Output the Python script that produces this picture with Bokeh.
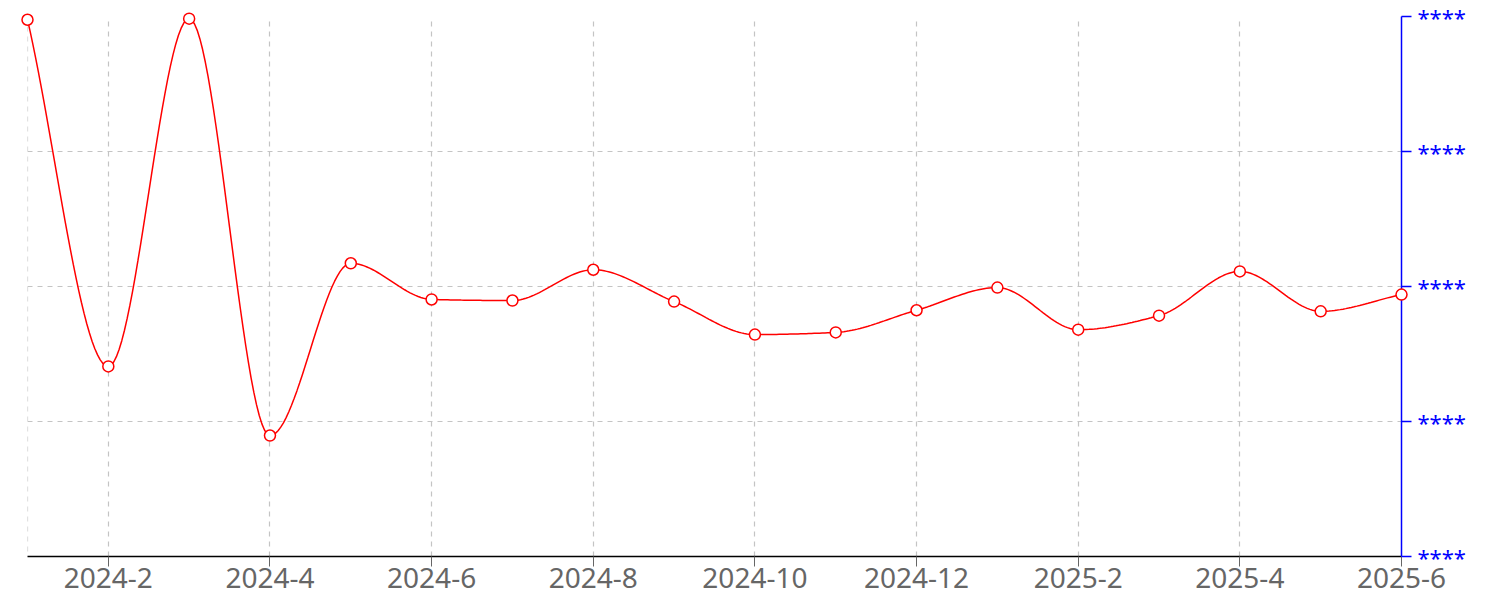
import numpy as np
from bokeh.plotting import figure
from bokeh.models import Range1d, FixedTicker, Span
from bokeh.embed import file_html
from bokeh.resources import INLINE

months = ["2024-1", "2024-2", "2024-3", "2024-4", "2024-5", "2024-6", "2024-7", "2024-8", "2024-9",
          "2024-10", "2024-11", "2024-12", "2025-1", "2025-2", "2025-3", "2025-4", "2025-5", "2025-6"]
values = [99.4, 35.2, 99.6, 22.4, 54.3, 47.6, 47.4, 53.1, 47.2,
          41.1, 41.5, 45.6, 49.8, 42.0, 44.6, 52.8, 45.4, 48.5]
y_ticks = [0, 25, 50, 75, 100]
y_tick_labels = ["****", "****", "****", "****", "****"]

x = np.arange(len(months), dtype=float)
y = np.array(values, dtype=float)


def monotone_curve(xs, ys, n=30):
    # Fritsch-Carlson monotone cubic, used only to draw the smooth line between the data points
    h = np.diff(xs)
    d = np.diff(ys) / h
    m = np.zeros_like(ys)
    m[0] = d[0]
    m[-1] = d[-1]
    for i in range(1, len(ys) - 1):
        if d[i - 1] * d[i] <= 0:
            m[i] = 0.0
        else:
            w1 = 2 * h[i] + h[i - 1]
            w2 = h[i] + 2 * h[i - 1]
            m[i] = (w1 + w2) / (w1 / d[i - 1] + w2 / d[i])
    cx, cy = [], []
    for i in range(len(xs) - 1):
        t = np.linspace(0, 1, n, endpoint=(i == len(xs) - 2))
        h00 = 2 * t**3 - 3 * t**2 + 1
        h10 = t**3 - 2 * t**2 + t
        h01 = -2 * t**3 + 3 * t**2
        h11 = t**3 - t**2
        cx.extend(xs[i] + t * h[i])
        cy.extend(h00 * ys[i] + h10 * h[i] * m[i] + h01 * ys[i + 1] + h11 * h[i] * m[i + 1])
    return cx, cy


cx, cy = monotone_curve(x, y)

p = figure(frame_width=1374, frame_height=540, output_backend="svg", toolbar_location=None,
           y_axis_location="right",
           x_range=Range1d(0, len(months) - 1), y_range=Range1d(y_ticks[0], y_ticks[-1]),
           min_border_left=27, min_border_top=16, min_border_right=10, min_border_bottom=50)
p.outline_line_color = None
p.background_fill_color = "white"
p.border_fill_color = "white"

# grids
grid_col = "#c4c4c4"
p.xgrid.grid_line_color = grid_col
p.xgrid.grid_line_dash = "5 5"
p.xgrid.grid_line_width = 1.2
p.ygrid.grid_line_color = grid_col
p.ygrid.grid_line_dash = "5 5"
p.ygrid.grid_line_width = 1.2
p.add_layout(Span(location=0, dimension="height", line_color=grid_col, line_dash="5 5", line_width=1.2))

# x axis
xt = list(range(1, len(months), 2))
p.xaxis.ticker = FixedTicker(ticks=xt)
p.xaxis.major_label_overrides = {i: months[i] for i in xt}
p.xaxis.axis_line_color = "black"
p.xaxis.axis_line_width = 1.5
p.xaxis.major_tick_line_color = "#666666"
p.xaxis.major_tick_out = 10
p.xaxis.major_tick_in = 0
p.xaxis.minor_tick_line_color = None
p.xaxis.major_label_text_color = "#666666"
p.xaxis.major_label_text_font = "Noto Sans"
p.xaxis.major_label_text_font_size = "28px"
p.xaxis.major_label_standoff = 1

# y axis (right)
p.yaxis.ticker = FixedTicker(ticks=y_ticks)
p.yaxis.major_label_overrides = {t: l for t, l in zip(y_ticks, y_tick_labels)}
p.yaxis.axis_line_color = "blue"
p.yaxis.axis_line_width = 1.5
p.yaxis.major_tick_line_color = "blue"
p.yaxis.major_tick_line_width = 1.5
p.yaxis.major_tick_out = 10
p.yaxis.major_tick_in = 0
p.yaxis.minor_tick_line_color = None
p.yaxis.major_label_text_color = "blue"
p.yaxis.major_label_text_font = "Noto Sans"
p.yaxis.major_label_text_font_size = "22px"
p.yaxis.major_label_text_baseline = "top"
p.yaxis.major_label_standoff = 6

p.line(cx, cy, line_color="red", line_width=1.5, level="overlay")
p.scatter(x, y, size=11, fill_color="white", line_color="red", line_width=1.5, level="overlay")

open("out.html", "w").write(file_html(p, INLINE))
